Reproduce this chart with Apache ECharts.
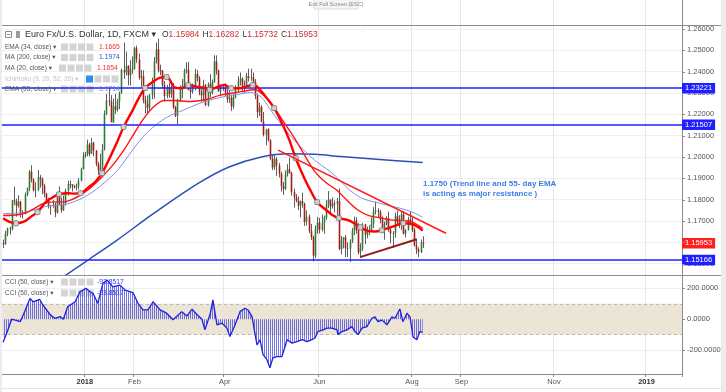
<!DOCTYPE html>
<html><head><meta charset="utf-8">
<script src="https://cdn.jsdelivr.net/npm/echarts@6/dist/echarts.min.js"></script>
<style>html,body{margin:0;padding:0;background:#fff}#c{width:726px;height:392px}</style>
</head><body><div id="c"></div>
<script>
// ---------- DATA ----------
const startDate = '2017-11-08';
const totalBars = 316;               // daily bars incl. projected future space
const tickLabels = [['2018-01-01','2018'],['2018-02-01','Feb'],['2018-04-02','Apr'],['2018-06-01','Jun'],
  ['2018-08-01','Aug'],['2018-09-03','Sep'],['2018-11-01','Nov'],['2019-01-01','2019']];
const priceTicks = [1.15,1.16,1.17,1.18,1.19,1.20,1.21,1.22,1.23,1.24,1.25,1.26];
const cciTicks = [-200,0,200];
// [open, high, low, close]
const ohlc = [
[1.1595,1.1612,1.1572,1.1591],[1.1591,1.1653,1.1588,1.1640],[1.1640,1.1668,1.1628,1.1665],[1.1665,1.1673,1.1636,1.1663],
[1.1663,1.1797,1.1655,1.1797],[1.1797,1.1861,1.1774,1.1793],[1.1793,1.1804,1.1720,1.1771],[1.1771,1.1821,1.1763,1.1790],
[1.1790,1.1794,1.1716,1.1736],[1.1736,1.1750,1.1712,1.1735],[1.1735,1.1833,1.1731,1.1822],[1.1822,1.1857,1.1816,1.1853],
[1.1853,1.1938,1.1839,1.1931],[1.1931,1.1961,1.1880,1.1894],[1.1894,1.1900,1.1838,1.1844],[1.1844,1.1881,1.1811,1.1846],
[1.1846,1.1939,1.1840,1.1904],[1.1904,1.1916,1.1856,1.1896],[1.1896,1.1904,1.1826,1.1865],[1.1865,1.1874,1.1811,1.1827],
[1.1827,1.1832,1.1782,1.1797],[1.1797,1.1808,1.1758,1.1772],[1.1772,1.1775,1.1729,1.1773],[1.1773,1.1799,1.1762,1.1777],
[1.1777,1.1786,1.1717,1.1740],[1.1740,1.1829,1.1734,1.1825],[1.1825,1.1862,1.1773,1.1779],[1.1779,1.1809,1.1738,1.1750],
[1.1750,1.1819,1.1747,1.1781],[1.1781,1.1851,1.1772,1.1842],[1.1842,1.1888,1.1819,1.1873],[1.1873,1.1889,1.1852,1.1871],
[1.1871,1.1872,1.1838,1.1861],[1.1861,1.1869,1.1853,1.1860],[1.1860,1.1875,1.1843,1.1861],[1.1861,1.1901,1.1848,1.1889],
[1.1889,1.1950,1.1885,1.1943],[1.1943,1.2022,1.1941,1.2004],[1.2004,1.2024,1.1996,1.2010],[1.2010,1.2081,1.2003,1.2058],
[1.2058,1.2066,1.2002,1.2015],[1.2015,1.2089,1.2013,1.2067],[1.2067,1.2071,1.2003,1.2030],[1.2030,1.2032,1.1956,1.1968],
[1.1968,1.1977,1.1916,1.1937],[1.1937,1.2015,1.1917,1.1951],[1.1951,1.2060,1.1942,1.2035],[1.2035,1.2218,1.2030,1.2200],
[1.2200,1.2296,1.2196,1.2265],[1.2265,1.2323,1.2238,1.2260],[1.2260,1.2290,1.2165,1.2162],[1.2162,1.2274,1.2160,1.2237],
[1.2237,1.2296,1.2202,1.2221],[1.2221,1.2272,1.2213,1.2261],[1.2261,1.2307,1.2224,1.2300],[1.2300,1.2414,1.2296,1.2408],
[1.2408,1.2537,1.2367,1.2396],[1.2396,1.2494,1.2382,1.2427],[1.2427,1.2430,1.2336,1.2383],[1.2383,1.2454,1.2335,1.2410],
[1.2410,1.2472,1.2390,1.2414],[1.2414,1.2516,1.2409,1.2510],[1.2510,1.2522,1.2441,1.2457],[1.2457,1.2485,1.2362,1.2371],
[1.2371,1.2408,1.2330,1.2378],[1.2378,1.2406,1.2251,1.2265],[1.2265,1.2287,1.2204,1.2250],[1.2250,1.2289,1.2206,1.2230],
[1.2230,1.2296,1.2217,1.2289],[1.2289,1.2372,1.2270,1.2355],[1.2355,1.2469,1.2273,1.2449],[1.2449,1.2537,1.2438,1.2505],
[1.2505,1.2555,1.2396,1.2406],[1.2406,1.2433,1.2384,1.2405],[1.2405,1.2408,1.2320,1.2337],[1.2337,1.2357,1.2260,1.2285],
[1.2285,1.2338,1.2275,1.2328],[1.2328,1.2349,1.2277,1.2295],[1.2295,1.2355,1.2277,1.2318],[1.2318,1.2346,1.2225,1.2233],
[1.2233,1.2240,1.2186,1.2193],[1.2193,1.2273,1.2154,1.2268],[1.2268,1.2336,1.2257,1.2317],[1.2317,1.2365,1.2275,1.2335],
[1.2335,1.2414,1.2325,1.2405],[1.2405,1.2444,1.2392,1.2410],[1.2410,1.2446,1.2314,1.2313],[1.2313,1.2336,1.2273,1.2305],
[1.2305,1.2344,1.2297,1.2335],[1.2335,1.2413,1.2312,1.2389],[1.2389,1.2408,1.2354,1.2369],[1.2369,1.2379,1.2289,1.2302],
[1.2302,1.2322,1.2259,1.2289],[1.2289,1.2362,1.2260,1.2336],[1.2336,1.2342,1.2240,1.2241],[1.2241,1.2349,1.2236,1.2341],
[1.2341,1.2388,1.2281,1.2301],[1.2301,1.2363,1.2293,1.2352],[1.2352,1.2477,1.2347,1.2448],[1.2448,1.2476,1.2386,1.2406],
[1.2406,1.2410,1.2306,1.2308],[1.2308,1.2338,1.2284,1.2322],[1.2322,1.2335,1.2310,1.2323],[1.2323,1.2345,1.2285,1.2302],
[1.2302,1.2318,1.2254,1.2271],[1.2271,1.2315,1.2253,1.2278],[1.2278,1.2292,1.2215,1.2237],[1.2237,1.2294,1.2226,1.2281],
[1.2281,1.2336,1.2274,1.2319],[1.2319,1.2378,1.2300,1.2354],[1.2354,1.2396,1.2335,1.2367],[1.2367,1.2373,1.2303,1.2324],
[1.2324,1.2358,1.2300,1.2330],[1.2330,1.2395,1.2322,1.2379],[1.2379,1.2414,1.2354,1.2370],[1.2370,1.2414,1.2357,1.2374],
[1.2374,1.2396,1.2335,1.2350],[1.2350,1.2365,1.2271,1.2287],[1.2287,1.2297,1.2183,1.2210],[1.2210,1.2254,1.2192,1.2234],
[1.2234,1.2243,1.2162,1.2165],[1.2165,1.2211,1.2096,1.2104],[1.2104,1.2132,1.2055,1.2129],[1.2129,1.2135,1.2072,1.2078],
[1.2078,1.2083,1.1985,1.1992],[1.1992,1.2009,1.1938,1.1951],[1.1951,1.2012,1.1940,1.1990],[1.1990,1.1999,1.1911,1.1959],
[1.1959,1.1972,1.1904,1.1922],[1.1922,1.1930,1.1838,1.1864],[1.1864,1.1882,1.1822,1.1850],[1.1850,1.1936,1.1845,1.1917],
[1.1917,1.1966,1.1908,1.1942],[1.1942,1.1997,1.1922,1.1925],[1.1925,1.1931,1.1818,1.1835],[1.1835,1.1851,1.1763,1.1810],
[1.1810,1.1826,1.1787,1.1795],[1.1795,1.1815,1.1750,1.1771],[1.1771,1.1795,1.1716,1.1793],[1.1793,1.1832,1.1762,1.1781],
[1.1781,1.1786,1.1676,1.1695],[1.1695,1.1749,1.1678,1.1720],[1.1720,1.1730,1.1643,1.1652],[1.1652,1.1686,1.1610,1.1624],
[1.1624,1.1631,1.1510,1.1537],[1.1537,1.1678,1.1525,1.1664],[1.1664,1.1718,1.1640,1.1692],[1.1692,1.1714,1.1641,1.1658],
[1.1658,1.1730,1.1650,1.1693],[1.1693,1.1725,1.1640,1.1716],[1.1716,1.1797,1.1705,1.1777],[1.1777,1.1840,1.1760,1.1800],
[1.1800,1.1800,1.1727,1.1768],[1.1768,1.1810,1.1757,1.1782],[1.1782,1.1796,1.1740,1.1778],[1.1778,1.1808,1.1726,1.1793],
[1.1793,1.1852,1.1562,1.1568],[1.1568,1.1629,1.1543,1.1610],[1.1610,1.1623,1.1571,1.1623],[1.1623,1.1634,1.1530,1.1574],
[1.1574,1.1600,1.1531,1.1570],[1.1570,1.1614,1.1508,1.1604],[1.1604,1.1667,1.1596,1.1654],[1.1654,1.1720,1.1633,1.1701],
[1.1701,1.1717,1.1640,1.1658],[1.1658,1.1690,1.1542,1.1553],[1.1553,1.1595,1.1526,1.1570],[1.1570,1.1690,1.1560,1.1684],
[1.1684,1.1686,1.1591,1.1635],[1.1635,1.1673,1.1618,1.1657],[1.1657,1.1680,1.1633,1.1653],[1.1653,1.1716,1.1646,1.1686],
[1.1686,1.1765,1.1667,1.1744],[1.1744,1.1791,1.1730,1.1749],[1.1749,1.1760,1.1718,1.1741],[1.1741,1.1752,1.1689,1.1706],
[1.1706,1.1721,1.1654,1.1670],[1.1670,1.1697,1.1612,1.1685],[1.1685,1.1722,1.1679,1.1712],[1.1712,1.1743,1.1649,1.1659],
[1.1659,1.1669,1.1595,1.1641],[1.1641,1.1652,1.1575,1.1643],[1.1643,1.1739,1.1621,1.1722],[1.1722,1.1748,1.1681,1.1694],
[1.1694,1.1727,1.1666,1.1686],[1.1686,1.1745,1.1658,1.1730],[1.1730,1.1747,1.1636,1.1640],[1.1640,1.1661,1.1622,1.1658],
[1.1658,1.1720,1.1655,1.1707],[1.1707,1.1746,1.1680,1.1690],[1.1690,1.1716,1.1648,1.1658],[1.1658,1.1667,1.1580,1.1585],
[1.1585,1.1613,1.1544,1.1567],[1.1567,1.1576,1.1530,1.1554],[1.1554,1.1613,1.1549,1.1598],[1.15984,1.16282,1.15732,1.15953]
];
// indicator lines: [bar index, value]
const ma20Pts = [[0,1.1712],[3,1.1695],[6,1.1689],[10,1.1698],[13,1.1720],[16,1.1741],[20,1.1790],[23,1.1810],[26,1.1825],[30,1.1830],[33,1.1828],[36,1.1830],[40,1.1860],[43,1.1885],[46,1.1924],[50,1.2005],[53,1.2070],[56,1.2140],[60,1.2215],[63,1.2275],[66,1.2323],[70,1.2355],[73,1.2372],[76,1.2375],[80,1.2325],[83,1.2322],[86,1.2337],[90,1.2330],[93,1.2325],[96,1.2315],[100,1.2330],[103,1.2337],[106,1.2322],[110,1.2322],[113,1.2330],[116,1.2337],[118,1.2330],[120,1.2308],[123,1.2270],[126,1.2229],[130,1.2150],[133,1.2080],[136,1.1994],[140,1.1900],[143,1.1840],[146,1.1788],[150,1.1752],[153,1.1728],[156,1.1713],[160,1.1705],[163,1.1690],[166,1.1670],[170,1.1652],[173,1.1650],[176,1.1656],[180,1.1670],[183,1.1680],[186,1.1689],[190,1.1685],[193,1.1670],[195,1.1654]];
const ma20Markers = [6,16,26,36,46,56,66,76,86,96,106,116,126,136,146,156,166,176,186];
const ema34Pts = [[0,1.1725],[10,1.1736],[20,1.1785],[30,1.1793],[40,1.1850],[50,1.1950],[56,1.2030],[60,1.2095],[65,1.2175],[70,1.2235],[75,1.2265],[80,1.2265],[87,1.2260],[94,1.2268],[101,1.2290],[110,1.2305],[117,1.2315],[121,1.2290],[125,1.2245],[130,1.2170],[135,1.2095],[140,1.2010],[145,1.1930],[150,1.1880],[155,1.1845],[160,1.1795],[165,1.1750],[170,1.1725],[175,1.1715],[180,1.1705],[185,1.1702],[190,1.1695],[195,1.1665]];
const ema55Pts = [[0,1.1735],[10,1.1740],[20,1.1768],[30,1.1780],[40,1.1825],[50,1.1905],[55,1.1960],[60,1.2030],[67,1.2115],[76,1.2185],[84,1.2220],[91,1.2250],[98,1.2272],[105,1.2287],[110,1.2295],[115,1.2302],[120,1.2280],[124,1.2225],[128,1.2170],[133,1.2105],[138,1.2050],[143,1.2000],[148,1.1960],[152,1.1932],[157,1.1885],[161,1.1845],[166,1.1810],[170,1.1795],[175,1.1783],[180,1.1770],[185,1.1758],[191,1.1738],[195,1.1716]];
const ma200Pts = [[29,1.1445],[40,1.1520],[53,1.1610],[70,1.1735],[91,1.1878],[105,1.1953],[120,1.2000],[133,1.2015],[145,1.2012],[157,1.2002],[175,1.1988],[195,1.1974]];
const cciPts = [[0,-150],[2,-80],[4,0],[8,-15],[10,49],[12.5,135],[14,113],[17,129],[18.5,92],[22,28],[24,6],[26.5,17],[28,0],[30,81],[33.5,113],[35.7,178],[38.5,200],[40.4,178],[41.8,168],[44,103],[46.4,232],[48.3,254],[51,210],[54.3,221],[56.7,189],[60.4,172],[62.7,103],[65,60],[67.3,60],[69.7,113],[73,60],[76,39],[79,-4],[83,49],[85.5,21],[87.8,65],[90,32],[92.4,0],[93.8,-69],[96.2,32],[97.5,125],[99.4,-37],[101.7,-26],[104,-58],[105.4,-112],[107.8,-37],[110.1,49],[112.4,71],[113.8,60],[115.7,17],[117,-90],[118,-166],[119.4,-133],[120.8,-230],[122.6,-262],[124,-315],[125.4,-250],[127.3,-242],[129.6,-242],[132,-133],[134.3,-155],[136.6,-145],[139,-133],[141.2,-145],[143.5,-133],[145,-122],[146.3,-80],[148.7,-69],[150.5,-58],[152.8,-58],[155.2,-69],[155.6,-100],[157.5,-80],[159.8,-69],[162.1,-48],[163.5,-80],[165,-100],[166.8,-58],[169.1,-48],[171.4,6],[172.8,15],[174.2,-16],[176.1,-6],[178.4,-37],[180.7,15],[182.1,6],[184.4,66],[185.8,-16],[187.7,39],[189.1,15],[190.5,-115],[192.3,-133],[193.7,-80],[195,-85]];
const hLevels = [1.23221, 1.21507, 1.15166];
const lastClose = 1.15953;
const trendLine = [[127.8,1.2032],[205.8,1.1642]];
const supportLine = [[165.9,1.1530],[192.3,1.1614]];

// ---------- CHART ----------
const F = '"Liberation Sans", Arial, "DejaVu Sans", sans-serif';
function weekdays(start, n){const out=[];const d=new Date(start+'T00:00:00Z');while(out.length<n){const w=d.getUTCDay();if(w!==0&&w!==6)out.push(d.toISOString().slice(0,10));d.setUTCDate(d.getUTCDate()+1);}return out;}
const dates = weekdays(startDate, totalBars);
const tickMap = Object.fromEntries(tickLabels);
const tickFn = (i, v) => tickMap[v] !== undefined;

const pat = document.createElement('canvas'); pat.width = 2; pat.height = 4;
const pctx = pat.getContext('2d'); pctx.fillStyle = 'rgba(60,60,220,0.7)'; pctx.fillRect(0,0,1,4);

const chart = echarts.init(document.getElementById('c'), null, {renderer:'canvas', width:726, height:392});

function candle(params, api){
  const i = api.value(0), o = api.value(1), h = api.value(2), l = api.value(3), c = api.value(4);
  const pO = api.coord([i,o]), pC = api.coord([i,c]), pH = api.coord([i,h]), pL = api.coord([i,l]);
  const bw = api.size([1,0])[0];
  const x = Math.round(pO[0]) + 0.5;
  const w = Math.max(1, bw*0.75);
  const top = Math.min(pO[1], pC[1]), bot = Math.max(pO[1], pC[1]);
  const up = c >= o;
  return {type:'group', children:[
    {type:'line', shape:{x1:x, y1:pH[1], x2:x, y2:pL[1]}, style:{stroke:'#5e5e5e', lineWidth:1}},
    {type:'rect', shape:{x:x - w/2, y:top, width:w, height:Math.max(1, bot-top)}, style:{fill: up ? '#2f7d32' : '#a31d1d'}}
  ]};
}
function lineSeries(name, pts, color, width, z){
  return {name, type:'line', xAxisIndex:1, yAxisIndex:1, data:pts, smooth:0.35, symbol:'none', z,
    lineStyle:{color, width}, silent:true};
}

const ma20Data = ma20Pts.map(p => ma20Markers.includes(p[0])
  ? {value:p, symbol:'roundRect', symbolSize:5, itemStyle:{color:'#cfcfcf', borderColor:'#707070', borderWidth:0.8}}
  : {value:p, symbol:'none'});

const g = [];
function T(x,y,text,size,color,weight,align){g.push({type:'text', x, y, z:100, silent:true, style:{text, fill:color, font:(weight||'normal')+' '+size+'px '+F, align:align||'left', verticalAlign:'middle', textAlign:align||'left', textVerticalAlign:'middle'}});}
function R(x,y,w,h,fill,stroke,z){g.push({type:'rect', z:z||99, silent:true, shape:{x,y,width:w,height:h}, style:{fill:fill||'none', stroke:stroke||null, lineWidth:1}});}
function L(x1,y1,x2,y2,color,z){g.push({type:'line', z:z||98, silent:true, shape:{x1,y1,x2,y2}, style:{stroke:color, lineWidth:1}});}
function icons(x,y,first){for(let k=0;k<4;k++){R(x+k*8.5, y-3.5, 7, 7, k===0&&first?first:'rgba(205,205,205,0.85)', null, 1);}}

// frame
R(721,0,5,392,'#ececec'); R(0,0,2,392,'#ededed');
L(0,25.5,721,25.5,'#8f8f8f'); L(0,275.5,721,275.5,'#8f8f8f'); L(2,388.5,721,388.5,'#e4e4e4');
// small price-scale ticks
priceTicks.forEach(v => { const y = 29 + (1.26 - v) * 2132.7; L(682, Math.round(y)+0.5, 685, Math.round(y)+0.5, '#8a8a8a'); });
[288.3, 319.2, 350].forEach(y => L(682, Math.round(y)+0.5, 685, Math.round(y)+0.5, '#8a8a8a'));
// exit full screen hint
R(314,-1,44,10,'#f4f4f4','#dddddd'); T(336,4,'Exit Full Screen (ESC)',5.5,'#888','normal','center');
// title row
R(5.5,31.5,6,6,'#fff','#8a8a8a'); L(7,34.5,10,34.5,'#8a8a8a',100); R(16,31,4,7,'#9a9a9a');
T(25,35,'Euro Fx/U.S. Dollar, 1D, FXCM \u25BE',9,'#333');
T(162,35,'O',8.5,'#333'); T(168.6,35,'1.15984',8.5,'#d32f2f');
T(202.5,35,'H',8.5,'#333'); T(208.6,35,'1.16282',8.5,'#d32f2f');
T(242.5,35,'L',8.5,'#333'); T(247.2,35,'1.15732',8.5,'#d32f2f');
T(281,35,'C',8.5,'#333'); T(287,35,'1.15953',8.5,'#d32f2f');
// legend rows
T(5,47,'EMA (34, close) \u25BE',6.5,'#555'); icons(61,47); T(99,47,'1.1665',6.8,'#ff2a2a');
T(5,57.5,'MA (200, close) \u25BE',6.5,'#555'); icons(61,57.5); T(99,57.5,'1.1974',6.8,'#2f55c8');
T(5,68,'MA (20, close) \u25BE',6.5,'#555'); icons(59,68); T(97,68,'1.1654',6.8,'#ff2a2a');
T(5,79,'Ichimoku (9, 26, 52, 26) \u25BE',6.5,'#c4c4c4'); icons(86,79,'#2b8fe8');
T(5,89,'EMA (55, close) \u25BE',6.5,'#555'); icons(61,89); T(99,89,'1.1714',6.8,'#6f82d8');
T(5,282,'CCI (50, close) \u25BE',6.5,'#555'); icons(61,282); T(97,282,'-93.8517',6.8,'#3a3aef');
T(5,293,'CCI (50, close) \u25BE',6.5,'#555'); icons(61,293); T(97,293,'-93.8517',6.8,'#3a3aef');
// annotation
T(423,184,'1.1750 (Trend line and 55- day EMA',8,'#3d7ee6','bold');
T(423,193.5,'is acting as major resistance )',8,'#3d7ee6','bold');

const axisLbl = {fontSize:7.5, color:'#555', fontFamily:F};
const hiddenX = {type:'value', min:-0.5, max:totalBars-0.5, show:false, axisLine:{show:false, onZero:false}, axisTick:{show:false}, axisLabel:{show:false}, splitLine:{show:false}};
chart.setOption({
  animation:false,
  backgroundColor:'#fff',
  grid:[
    {left:2, right:44, top:0, height:374, outerBoundsMode:'none', containLabel:false},
    {left:2, right:44, top:7.67, height:277.2, outerBoundsMode:'none', containLabel:false},
    {left:2, right:44, top:257.5, height:123.4, outerBoundsMode:'none', containLabel:false}
  ],
  xAxis:[
    {gridIndex:0, type:'category', data:dates, boundaryGap:true,
      axisLine:{onZero:false, lineStyle:{color:'#8a8a8a'}},
      axisTick:{show:true, interval:tickFn, length:3, lineStyle:{color:'#8a8a8a'}},
      axisLabel:{interval:tickFn, margin:4, ...axisLbl, formatter:v=>{const t=tickMap[v]; if(!t) return ''; return /^\d{4}$/.test(t)?'{b|'+t+'}':t;},
        rich:{b:{fontWeight:'bold', color:'#333', fontSize:7.5, fontFamily:F}}},
      splitLine:{show:true, interval:tickFn, lineStyle:{color:'#e7e7e7'}}},
    {gridIndex:1, ...hiddenX},
    {gridIndex:2, ...hiddenX}
  ],
  yAxis:[
    {gridIndex:0, type:'value', min:0, max:1, position:'right', axisLine:{show:true, onZero:false, lineStyle:{color:'#8a8a8a'}}, axisTick:{show:false}, axisLabel:{show:false}, splitLine:{show:false}},
    {gridIndex:1, type:'value', min:1.14, max:1.27, interval:0.01, position:'right',
      axisLine:{show:false, onZero:false}, axisTick:{show:false},
      axisLabel:{...axisLbl, margin:5, customValues:priceTicks, formatter:v=>v.toFixed(5)},
      splitLine:{show:true, showMinLine:false, showMaxLine:false, lineStyle:{color:'#efefef'}}},
    {gridIndex:2, type:'value', min:-400, max:400, interval:200, position:'right',
      axisLine:{show:false, onZero:false}, axisTick:{show:false},
      axisLabel:{...axisLbl, margin:5, customValues:cciTicks, formatter:v=>v.toFixed(4)},
      splitLine:{show:true, showMinLine:false, showMaxLine:false, lineStyle:{color:'#efefef'}}}
  ],
  graphic:{elements:g},
  series:[
    {name:'EURUSD', type:'custom', xAxisIndex:1, yAxisIndex:1, renderItem:candle, z:2, silent:true,
      encode:{x:0, y:[1,2,3,4]}, data:ohlc.map((r,i)=>[i, r[0], r[1], r[2], r[3]])},
    lineSeries('MA 200', ma200Pts, '#2c4fb8', 1.5, 4),
    lineSeries('EMA 55', ema55Pts, '#7f90e2', 1, 4),
    lineSeries('EMA 34', ema34Pts, '#ff1414', 1.4, 5),
    {name:'MA 20', type:'line', xAxisIndex:1, yAxisIndex:1, data:ma20Data, smooth:0.35, showSymbol:true, showAllSymbol:true, z:6,
      lineStyle:{color:'#ff0000', width:2.4}, silent:true},
    {name:'trend', type:'line', xAxisIndex:1, yAxisIndex:1, data:trendLine, symbol:'none', z:7, lineStyle:{color:'#ff1a1a', width:1.5}, silent:true},
    {name:'support', type:'line', xAxisIndex:1, yAxisIndex:1, data:supportLine, symbol:'none', z:7, lineStyle:{color:'#8e1c1c', width:2}, silent:true},
    {name:'levels', type:'line', xAxisIndex:1, yAxisIndex:1, data:[], z:8, silent:true,
      markLine:{silent:true, symbol:['none','none'], animation:false, precision:5,
        label:{show:true, position:'end', distance:0, color:'#fff', fontSize:7.5, fontFamily:F, padding:[1.5,3,1,3], formatter:p=>Number(p.value).toFixed(5)},
        data:[
          ...hLevels.map(v=>({yAxis:v, lineStyle:{color:'#1f1fff', width:1.5, type:'solid'}, label:{backgroundColor:'#1f1fff'}})),
          {yAxis:lastClose, lineStyle:{color:'rgba(0,0,0,0)', width:0}, label:{backgroundColor:'#ff1f1f'}}
        ]}},
    {name:'band', type:'line', xAxisIndex:2, yAxisIndex:2, data:[], z:1, silent:true,
      markArea:{silent:true, itemStyle:{color:'#ece4d4'}, data:[[{yAxis:100},{yAxis:-100}]]},
      markLine:{silent:true, symbol:['none','none'], label:{show:false}, lineStyle:{color:'#b9b9b9', type:[3,3], width:1},
        data:[{yAxis:100},{yAxis:-100}]}},
    {name:'CCI', type:'line', xAxisIndex:2, yAxisIndex:2, data:cciPts, symbol:'none', z:5, silent:true,
      lineStyle:{color:'#1c20e6', width:1.3}, areaStyle:{color:{image:pat, repeat:'repeat'}, origin:'auto', opacity:1}}
  ]
});
</script>
</body></html>
